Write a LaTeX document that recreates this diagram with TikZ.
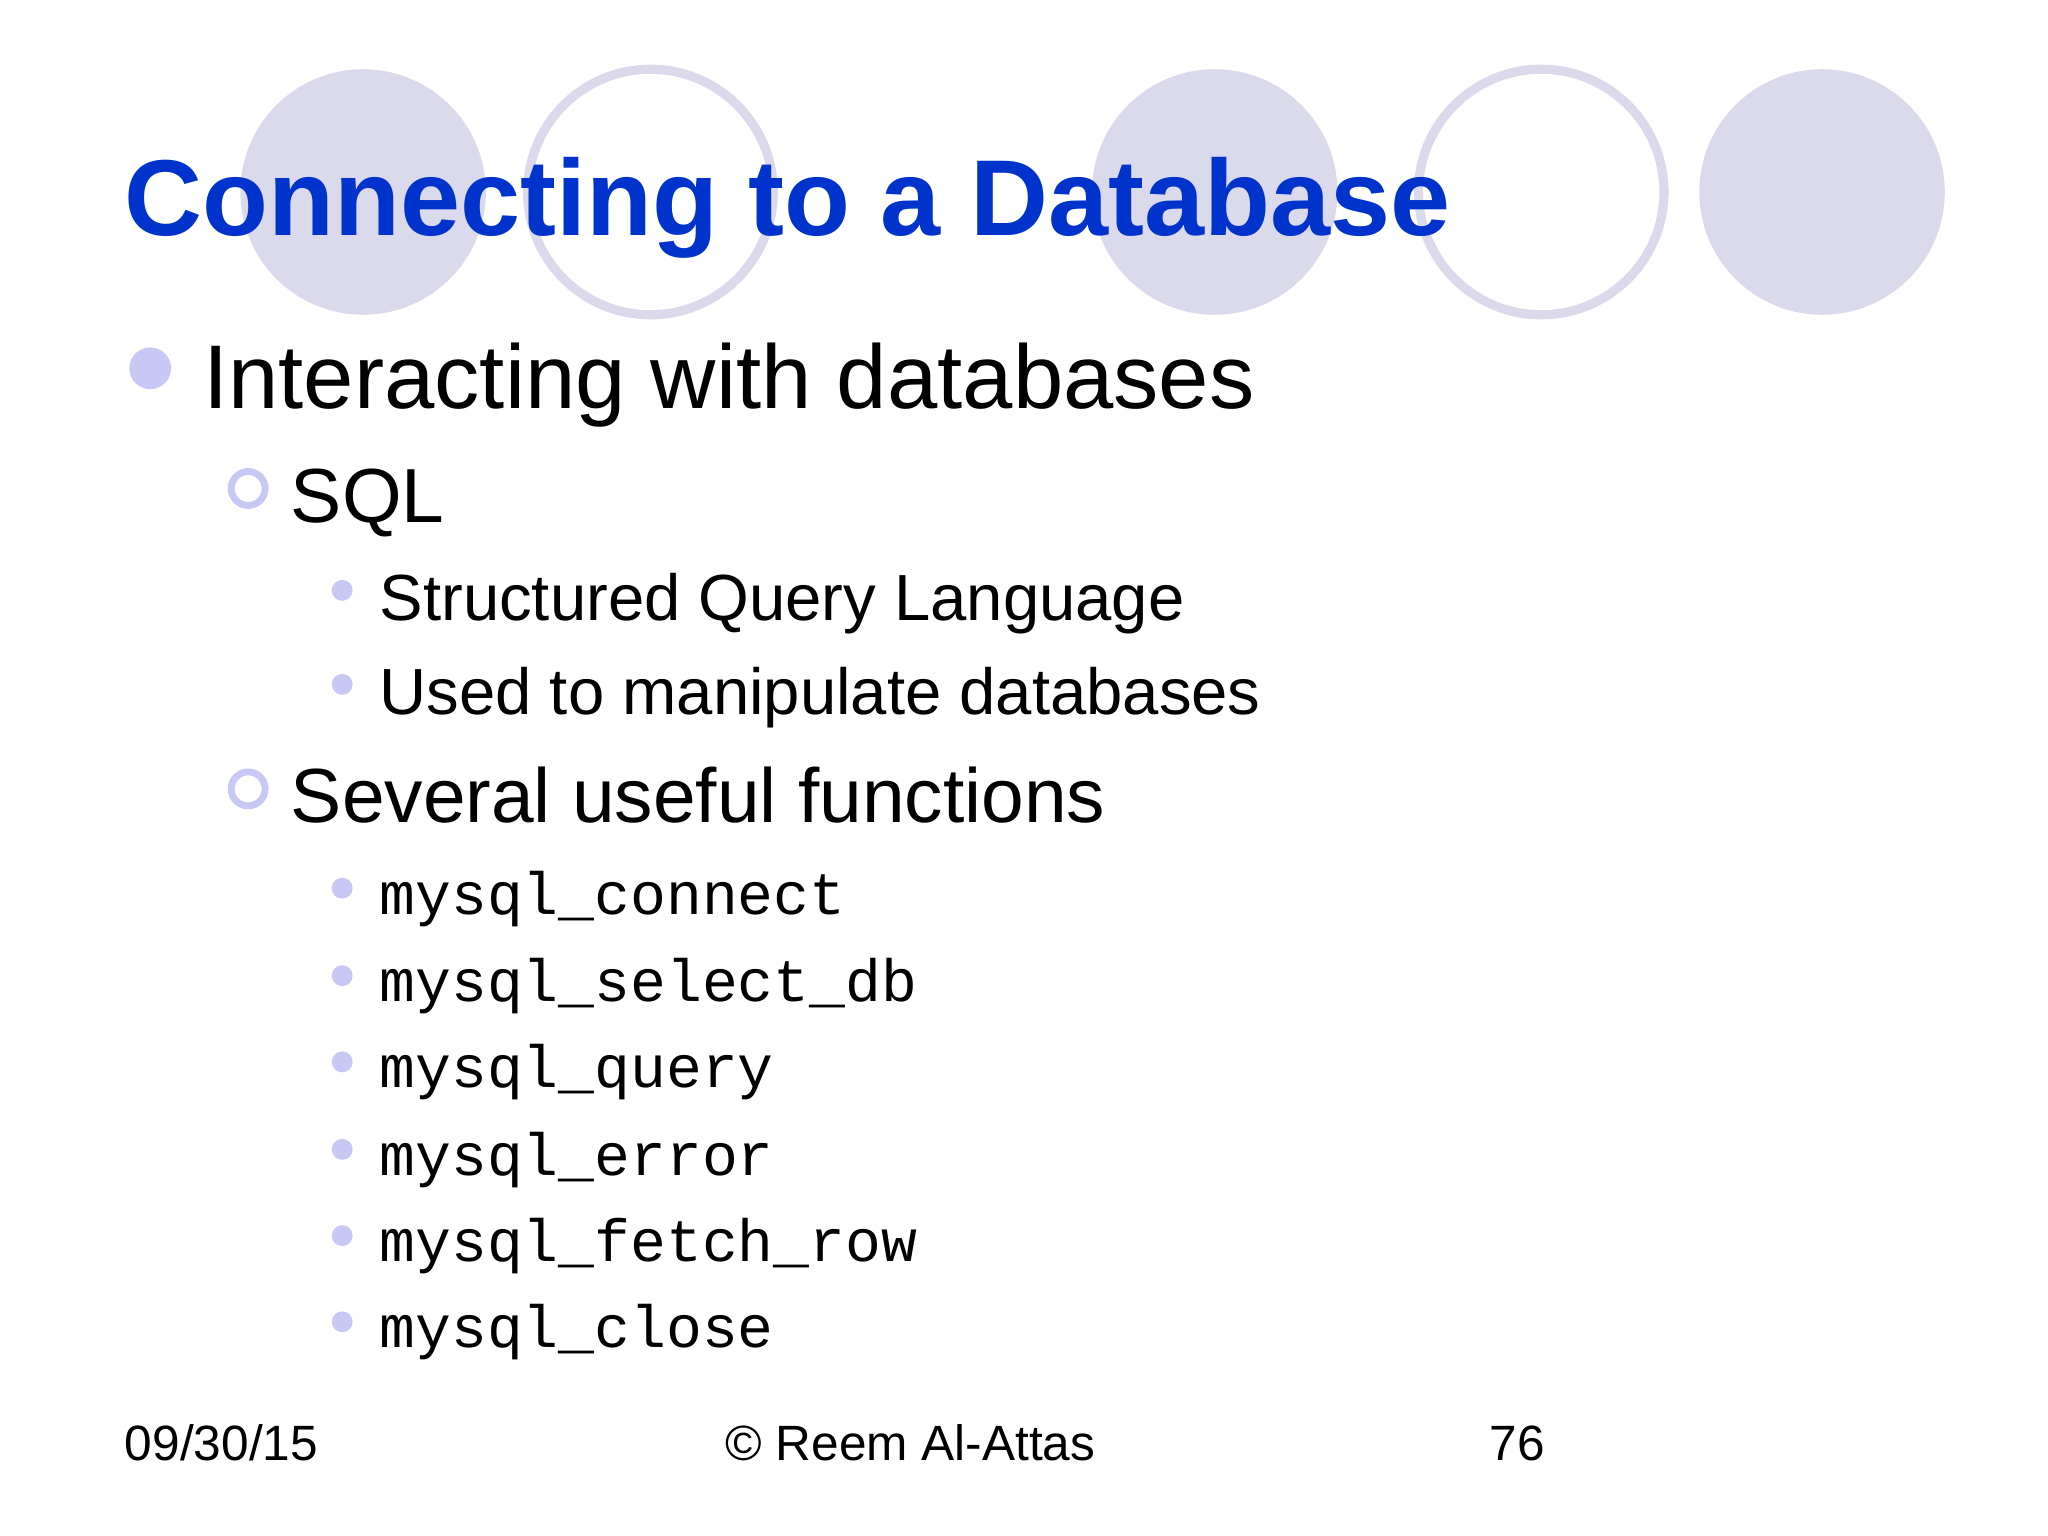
\documentclass[tikz,border=0pt]{standalone}
\usepackage{fontspec}
\setmainfont{Liberation Sans}
\setmonofont{Liberation Mono}
\definecolor{disc}{RGB}{218,218,236}
\definecolor{dot}{RGB}{200,200,245}
\definecolor{ttl}{RGB}{0,51,204}
\begin{document}
\begin{tikzpicture}[x=0.01cm,y=-0.01cm,
    txt/.style={anchor=base west, inner sep=0pt},
    full/.style={fill=disc, draw=none},
    ring/.style={draw=disc, line width=2pt}
  ]
\useasboundingbox (0,0) rectangle (1568,1176);
% Circles
\fill[full] (278,147) circle (94);
\draw[ring] (498,147) circle (94);
\fill[full] (930,147) circle (94);
\draw[ring] (1180,147) circle (94);
\fill[full] (1395,147) circle (94);
% Title
\node[txt, text=ttl, font=\fontsize{23.5}{27}\selectfont\bfseries] (title) at (95,180) {Connecting to a Database};
% Level 1
\fill[dot] (115,282) circle (16);
\node[txt, font=\fontsize{19.7}{22}\selectfont] (inter) at (155,313) {Interacting with databases};
% Level 2
\draw[dot, line width=1.5pt] (190,374) circle (13);
\node[txt, font=\fontsize{16.7}{19}\selectfont] (sql) at (222,400) {SQL};
\draw[dot, line width=1.5pt] (190,604) circle (13);
\node[txt, font=\fontsize{16.7}{19}\selectfont] (funcs) at (222,630) {Several useful functions};
% Level 3
\foreach \y/\t in {475/Structured Query Language, 547/Used to manipulate databases} {
  \fill[dot] (262,\y-23) circle (8);
  \node[txt, font=\fontsize{14.2}{16}\selectfont] at (290,\y) {\t};
}
\foreach \y/\t in {700/connect, 767/select\_db, 833/query, 900/error, 966/fetch\_row, 1032/close} {
  \fill[dot] (262,\y-20) circle (8);
  \node[txt, font=\fontsize{13}{15}\selectfont\ttfamily] at (290,\y) {mysql\_\t};
}
% Footer
\node[txt, font=\fontsize{10.8}{12}\selectfont] (date) at (95,1118) {09/30/15};
\node[anchor=base, inner sep=0pt, font=\fontsize{10.8}{12}\selectfont] (auth) at (697,1118) {© Reem Al-Attas};
\node[txt, font=\fontsize{10.8}{12}\selectfont] (page) at (1140,1118) {76};
\end{tikzpicture}
\end{document}
